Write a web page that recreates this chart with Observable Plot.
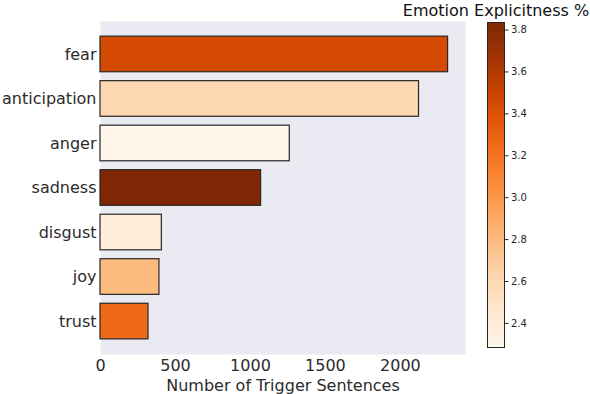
<!DOCTYPE html>
<html><head><meta charset="utf-8">
<script src="https://cdn.jsdelivr.net/npm/d3@7"></script>
<script src="https://cdn.jsdelivr.net/npm/@observablehq/plot@0.6"></script>
<style>
body{margin:0;background:#fff;}
#wrap{position:relative;width:590px;height:394px;}
#wrap svg{position:absolute;left:0;top:0;overflow:visible;}
</style></head><body><div id="wrap"></div>
<script>
const emotions = ["fear","anticipation","anger","sadness","disgust","joy","trust"];
const triggerCounts = [2318, 2124, 1262, 1071, 409, 393, 320];
const explicitness = [3.45, 2.60, 2.285, 3.836, 2.39, 2.80, 3.25];
const xTicks = [0, 500, 1000, 1500, 2000];
const cbarTicks = [2.4, 2.6, 2.8, 3.0, 3.2, 3.4, 3.6, 3.8];
const cbarDomain = [2.285, 3.836];
const xMax = 2434;

const data = emotions.map((e, i) => ({emotion: e, count: triggerCounts[i], expl: explicitness[i]}));

const main = Plot.plot({
  width: 590, height: 394,
  marginLeft: 100, marginRight: 125, marginTop: 21, marginBottom: 40,
  style: {fontFamily: "DejaVu Sans", fontSize: "16px", color: "#2b2b2b", background: "transparent"},
  x: {domain: [0, xMax], ticks: xTicks, tickSize: 0, tickPadding: 5, tickFormat: d => String(d),
      label: "Number of Trigger Sentences", labelAnchor: "center", labelOffset: 36, labelArrow: "none"},
  y: {domain: emotions, paddingInner: 0.2, paddingOuter: 0.34, round: false, tickSize: 0, tickPadding: 4, label: null},
  color: {type: "linear", scheme: "oranges", domain: cbarDomain},
  marks: [
    Plot.frame({fill: "#eaeaf2", stroke: null}),
    Plot.barX(data, {x: "count", y: "emotion", fill: "expl", stroke: "#262626", strokeWidth: 1.2})
  ]
});

const n = 200;
const dv = (cbarDomain[1] - cbarDomain[0]) / n;
const steps = d3.range(n).map(i => cbarDomain[0] + dv * i);

const cbar = Plot.plot({
  width: 590, height: 394,
  marginLeft: 487, marginRight: 86, marginTop: 22, marginBottom: 47,
  style: {fontFamily: "DejaVu Sans", fontSize: "10px", color: "#262626", background: "transparent"},
  y: {domain: cbarDomain, ticks: cbarTicks, tickFormat: d3.format(".1f"), axis: "right", tickSize: 3.5, tickPadding: 3, label: null},
  color: {type: "linear", scheme: "oranges", domain: cbarDomain},
  marks: [
    Plot.rect(steps, {y1: d => d, y2: d => Math.min(d + dv * 1.6, cbarDomain[1]), fill: d => d + dv / 2}),
    Plot.frame({stroke: "#262626", strokeWidth: 1}),
    Plot.text(["Emotion Explicitness %"], {frameAnchor: "top", lineAnchor: "middle", dy: -12, fontSize: 16, fill: "#111", text: d => d})
  ]
});

document.getElementById("wrap").append(main, cbar);
</script></body></html>
